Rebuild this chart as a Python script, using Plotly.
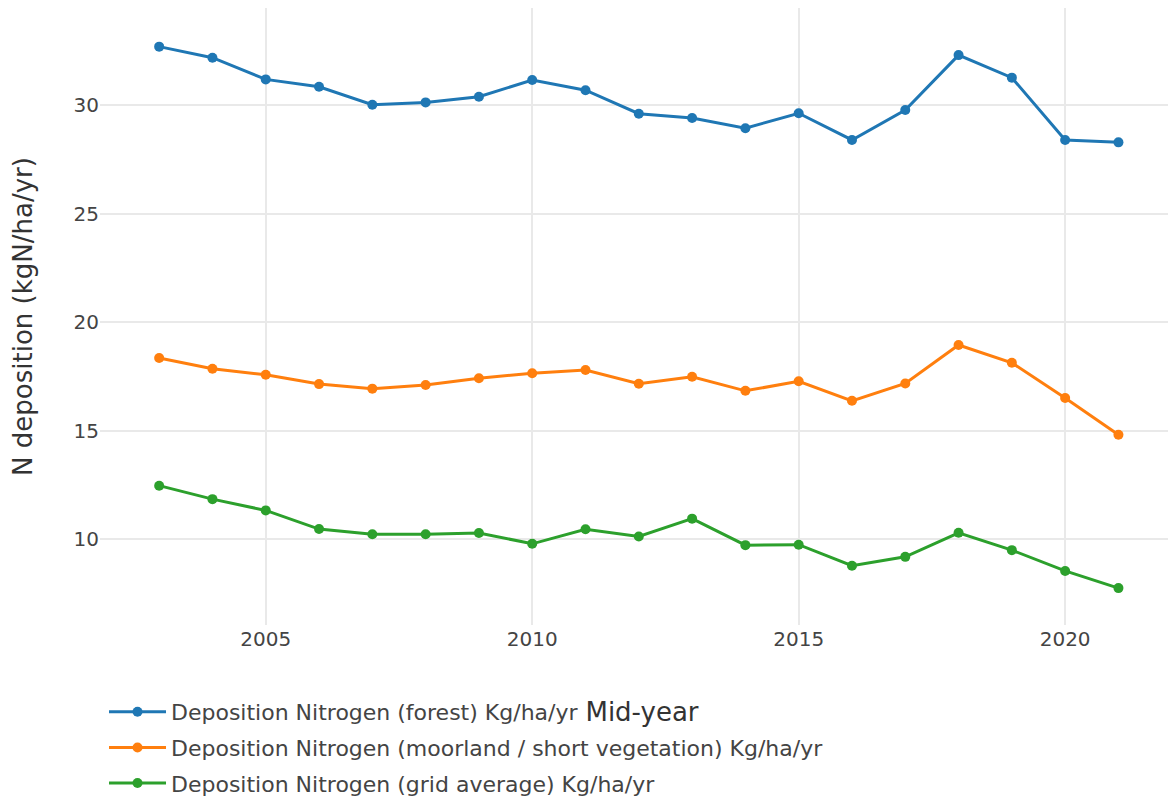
import plotly.graph_objects as go

years = list(range(2003, 2022))
forest = [32.69, 32.18, 31.18, 30.84, 30.01, 30.12, 30.38, 31.15, 30.68, 29.60,
          29.40, 28.93, 29.62, 28.39, 29.77, 32.30, 31.26, 28.39, 28.28]
moorland = [18.34, 17.85, 17.57, 17.14, 16.93, 17.10, 17.41, 17.64, 17.79, 17.16,
            17.48, 16.83, 17.27, 16.37, 17.17, 18.94, 18.12, 16.50, 14.81]
grid_avg = [12.46, 11.84, 11.32, 10.46, 10.22, 10.22, 10.28, 9.78, 10.45, 10.12,
            10.94, 9.72, 9.74, 8.77, 9.18, 10.29, 9.49, 8.53, 7.74]

series_names = [
    "Deposition Nitrogen (forest) Kg/ha/yr",
    "Deposition Nitrogen (moorland / short vegetation) Kg/ha/yr",
    "Deposition Nitrogen (grid average) Kg/ha/yr",
]
series_values = [forest, moorland, grid_avg]
colors = ["#1f77b4", "#ff7f0e", "#2ca02c"]

FONT = "DejaVu Sans"

fig = go.Figure()
for i, (name, vals, col) in enumerate(zip(series_names, series_values, colors)):
    fig.add_trace(go.Scatter(
        x=years, y=vals, name=name, mode="lines+markers",
        line=dict(color=col, width=3), marker=dict(color=col, size=10),
        legendgroup=f"g{i}",
    ))

fig.update_layout(
    width=1176, height=796,
    margin=dict(l=92, r=0, t=0, b=179, autoexpand=False),
    paper_bgcolor="white", plot_bgcolor="white",
    font=dict(family=FONT, color="#444444", size=20),
    showlegend=True,
    legend=dict(
        orientation="v", x=0.0037, xanchor="left", y=-0.107, yanchor="top",
        font=dict(size=22, family=FONT, color="#444444"),
        tracegroupgap=4, itemwidth=57, bgcolor="rgba(0,0,0,0)",
    ),
    xaxis=dict(
        range=[2001.89, 2022.23], tickvals=[2005, 2010, 2015, 2020],
        showgrid=True, gridcolor="#e9e9e9", gridwidth=1.5, zeroline=False,
        showline=False, ticks="", tickfont=dict(size=20),
        title=dict(text="Mid-year", font=dict(size=26, color="#333333"), standoff=52),
        automargin=False,
    ),
    yaxis=dict(
        range=[6.04, 34.47], tickvals=[10, 15, 20, 25, 30],
        showgrid=True, gridcolor="#e9e9e9", gridwidth=1.5, zeroline=False,
        showline=False, ticks="", tickfont=dict(size=20),
        title=dict(text="N deposition (kgN/ha/yr)", font=dict(size=26, color="#333333"), standoff=33),
        automargin=False,
    ),
)

fig.write_html("out.html")
